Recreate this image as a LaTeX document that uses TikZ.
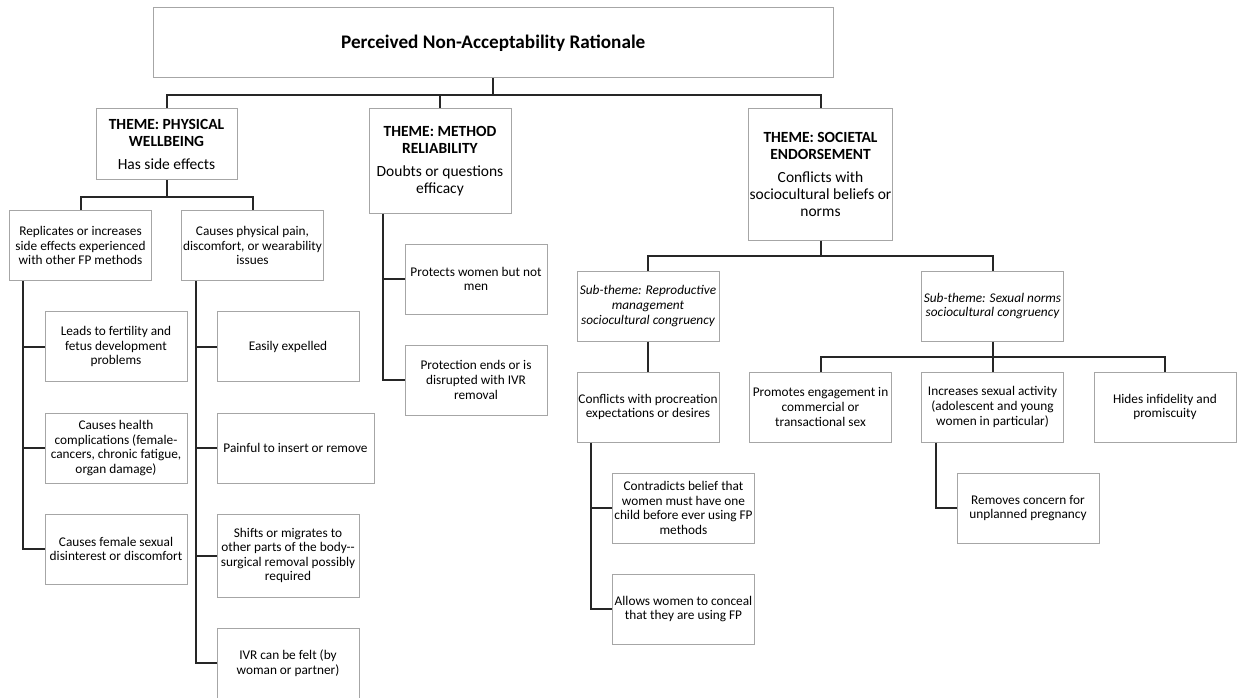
\documentclass[tikz,border=0pt]{standalone}
\usepackage{fontspec}
\setmainfont{Carlito}
\usetikzlibrary{positioning}

\newcommand{\testo}{\fontsize{13.3}{14.6}\selectfont}

\begin{document}
\begin{tikzpicture}[
  x=1pt, y=-1pt,
  font=\testo,
  casella/.style={draw=black!35, line width=1pt, fill=white, align=center, inner sep=1pt,
                  minimum width=142pt, minimum height=70pt},
  tema/.style={casella, font=\fontsize{15.5}{17}\selectfont},
  sottotema/.style={casella, font=\testo\itshape},
  collegamento/.style={draw=black!85, line width=2pt}
]
\useasboundingbox (0,0) rectangle (1240,698);

% radice e temi
\node[casella, minimum width=680pt, font=\fontsize{19.2}{22}\selectfont\bfseries] (R) at (493.25,43)
  {Perceived Non-Acceptability Rationale};
\node[tema, minimum width=141pt, minimum height=71pt] (T1) at (166.5,144.5)
  {\textbf{THEME: PHYSICAL}\\\textbf{WELLBEING}\\[6pt]Has side effects};
\node[tema, minimum height=104pt] (T2) at (440,161)
  {\textbf{THEME: METHOD}\\\textbf{RELIABILITY}\\[6pt]Doubts or questions\\efficacy};
\node[tema, minimum height=131pt] (T3) at (820.5,174.5)
  {\textbf{THEME: SOCIETAL}\\\textbf{ENDORSEMENT}\\[6pt]Conflicts with\\sociocultural beliefs or\\norms};

\draw[collegamento] (R.south) -- ++(0,17) coordinate (Rj);
\foreach \t in {T1,T2,T3}
  \draw[collegamento] (Rj) -| (\t.north);

% benessere fisico
\node[casella] (A) at (80.5,245.5) {Replicates or increases\\side effects experienced\\with other FP methods};
\node[casella] (B) at (252.5,245.5) {Causes physical pain,\\discomfort, or wearability\\issues};
\node[casella] (A1) at (116,346.5) {Leads to fertility and\\fetus development\\problems};
\node[casella] (A2) at (116,448) {Causes health\\complications (female-\\cancers, chronic fatigue,\\organ damage)};
\node[casella] (A3) at (116,549) {Causes female sexual\\disinterest or discomfort};
\node[casella] (B1) at (288,346.5) {Easily expelled};
\node[casella, minimum width=157pt] (B2) at (295.5,448) {Painful to insert or remove};
\node[casella, minimum height=83pt] (B3) at (288,555.5)
  {Shifts or migrates to\\other parts of the body-{}-\\surgical removal possibly\\required};
\node[casella] (B4) at (288,663) {IVR can be felt (by\\woman or partner)};

\draw[collegamento] (T1.south) -- ++(0,16) coordinate (T1j);
\foreach \c in {A,B}
  \draw[collegamento] (T1j) -| (\c.north);
\coordinate (At) at ([xshift=-57.5pt]A.south);
\draw[collegamento] (At) |- (A3.west);
\foreach \f in {A1,A2}
  \draw[collegamento] (\f.west -| At) -- (\f.west);
\coordinate (Bt) at ([xshift=-56.5pt]B.south);
\draw[collegamento] (Bt) |- (B4.west);
\foreach \f in {B1,B2,B3}
  \draw[collegamento] (\f.west -| Bt) -- (\f.west);

% affidabilita del metodo
\node[casella] (M1) at (476,279) {Protects women but not\\men};
\node[casella] (M2) at (476,380) {Protection ends or is\\disrupted with IVR\\removal};
\coordinate (Mt) at ([xshift=-57pt]T2.south);
\draw[collegamento] (Mt) |- (M2.west);
\draw[collegamento] (M1.west -| Mt) -- (M1.west);

% approvazione sociale
\node[sottotema] (S1) at (648,306) {Sub-theme: Reproductive\\management\\sociocultural congruency};
\node[sottotema] (S2) at (992.5,306) {Sub-theme: Sexual norms\\sociocultural congruency};
\draw[collegamento] (T3.south) -- ++(0,15) coordinate (T3j);
\foreach \s in {S1,S2}
  \draw[collegamento] (T3j) -| (\s.north);

\node[casella] (P) at (648,407) {Conflicts with procreation\\expectations or desires};
\node[casella] (P1) at (683.5,508) {Contradicts belief that\\women must have one\\child before ever using FP\\methods};
\node[casella] (P2) at (683.5,609) {Allows women to conceal\\that they are using FP};
\draw[collegamento] (S1) -- (P);
\coordinate (Pt) at ([xshift=-57pt]P.south);
\draw[collegamento] (Pt) |- (P2.west);
\draw[collegamento] (P1.west -| Pt) -- (P1.west);

\node[casella] (N1) at (820.5,407) {Promotes engagement in\\commercial or\\transactional sex};
\node[casella] (N2) at (992.5,407) {Increases sexual activity\\(adolescent and young\\women in particular)};
\node[casella] (N3) at (1165,407) {Hides infidelity and\\promiscuity};
\node[casella] (N4) at (1028,508) {Removes concern for\\unplanned pregnancy};
\draw[collegamento] (S2.south) -- ++(0,15) coordinate (S2j);
\foreach \n in {N1,N2,N3}
  \draw[collegamento] (S2j) -| (\n.north);
\coordinate (Nt) at ([xshift=-56.5pt]N2.south);
\draw[collegamento] (Nt) |- (N4.west);

\end{tikzpicture}
\end{document}
